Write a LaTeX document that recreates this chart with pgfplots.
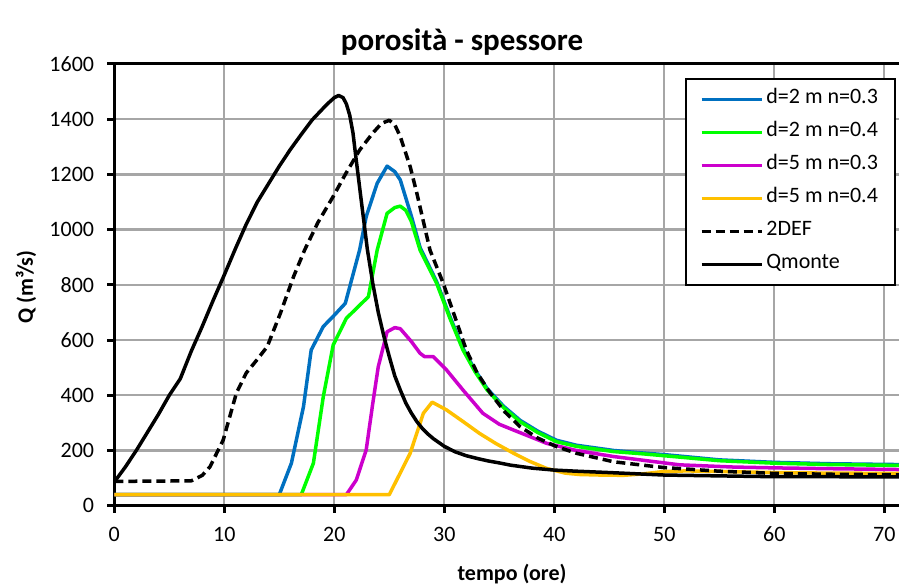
\documentclass[border=0pt]{standalone}
\usepackage{pgfplots}
\pgfplotsset{compat=1.18}
\usepackage{fontspec}
\setmainfont{Carlito}

\definecolor{cBlue}{RGB}{0,112,192}
\definecolor{cGreen}{RGB}{0,255,0}
\definecolor{cMagenta}{RGB}{204,0,204}
\definecolor{cOrange}{RGB}{255,192,0}
\definecolor{cGrid}{RGB}{166,166,166}

\begin{document}
\begin{tikzpicture}[x=1pt,y=1pt]
\useasboundingbox (0,0) rectangle (899,588);
\begin{axis}[
  at={(114.3pt,82.3pt)}, anchor=south west,
  scale only axis,
  width=784.7pt, height=441.7pt,
  xmin=0, xmax=71.34, ymin=0, ymax=1600,
  xtick={0,10,...,70}, ytick={0,200,...,1600},
  axis x line=box, axis y line=left,
  xtick pos=left,
  axis line style={-, line width=3pt, black},
  tick align=outside,
  major tick length=7pt,
  tick style={black, line width=3pt},
  grid=major,
  major grid style={cGrid, line width=2.3pt},
  /pgf/number format/assume math mode=true,
  /pgf/number format/1000 sep={},
  tick label style={font=\fontsize{22}{26}\selectfont},
  xticklabel style={anchor=north, inner sep=0pt, yshift=-14pt},
  yticklabel style={anchor=east, inner sep=0pt, xshift=-13pt},
  legend style={at={(axis cs:71.06,1550)}, anchor=north east,
    draw=black, line width=2pt, fill=white,
    inner xsep=14pt, inner ysep=7pt, row sep=6pt,
    font=\fontsize{22}{26}\selectfont,
    nodes={inner xsep=3pt, inner ysep=3pt, text height=15pt, text depth=6pt}},
  legend cell align=left,
  legend image code/.code={\draw[#1] (0pt,0pt) -- (60pt,0pt);},
  every axis plot/.append style={line width=3.5pt, line join=round},
]

% d = 2 m, n = 0.3
\addplot[cBlue] coordinates {
(0,40) (15,40) (16.1,154) (17.2,359) (17.9,564) (19,649) (20,690) (21,733)
(22.3,926) (22.9,1047) (23.9,1168) (24.8,1230) (25.5,1210) (26,1180)
(27,1050) (27.8,935) (29.3,812) (30.5,686) (31.7,570) (32.8,491) (33.9,424)
(35.4,360) (36.9,309) (38.5,270) (40.2,237) (42,219) (45.4,200) (48,191)
(50,185) (55,166) (60,157) (65,152) (71.34,149)};
\addlegendentry{d=2 m n=0.3}

% d = 2 m, n = 0.4
\addplot[cGreen] coordinates {
(0,40) (17,40) (18.1,154) (19,395) (19.9,582) (21.1,679) (23.1,757)
(23.9,926) (24.8,1059) (25.5,1080) (26,1085) (26.5,1070) (27,1030)
(27.8,926) (29.3,806) (30.5,680) (31.7,564) (32.8,485) (33.9,419)
(35.4,355) (36.9,304) (38.5,265) (40.2,232) (42,215) (45.4,196) (48,188)
(50,181) (55,163) (60,154) (65,149) (71.34,146)};
\addlegendentry{d=2 m n=0.4}

% d = 5 m, n = 0.3
\addplot[cMagenta] coordinates {
(0,40) (21.1,40) (22,93) (22.9,202) (23.5,371) (24,504) (24.8,630)
(25.5,645) (26,641) (27,595) (27.8,552) (28.2,540) (29,540) (30.2,492)
(31.7,419) (33.5,335) (35,295) (36.3,274) (39.3,226) (42,200) (45.4,178)
(50,155) (51.4,148) (56.3,140) (60,137) (65,134) (71.34,131)};
\addlegendentry{d=5 m n=0.3}

% d = 5 m, n = 0.4
\addplot[cOrange] coordinates {
(0,40) (25,40) (26.9,190) (28.1,335) (28.9,375) (30.2,347) (31.7,305)
(33.2,262) (34.7,225) (36.3,190) (37.8,160) (39.3,135) (41,118) (42.3,113)
(44.2,111) (46.3,110) (48,115) (50,124) (52,126) (55,124) (60,120)
(65,118) (71.34,117)};
\addlegendentry{d=5 m n=0.4}

% 2DEF
\addplot[black, dash pattern=on 9pt off 5pt] coordinates {
(0,88) (7,90) (8,110) (8.7,141) (9.9,238) (11.1,408) (12,481) (13,530)
(13.9,576) (15.1,697) (16.3,830) (17.3,926) (18.5,1025) (19.9,1120)
(21,1200) (22.3,1288) (23.5,1350) (24.3,1385) (25,1396) (25.5,1380)
(26,1337) (26.9,1228) (27.5,1133) (28.7,926) (29.9,806) (31,680) (32,564)
(33,480) (34.2,407) (35.5,340) (36.9,286) (38.5,245) (40.2,214) (42,190)
(45.4,159) (48,147) (50,138) (55,125) (60,117) (65,114) (71.34,112)};
\addlegendentry{2DEF}

% Qmonte
\addplot[black] coordinates {
(0,86) (1,140) (2,200) (3,265) (4,330) (5,400) (6,460) (7,560) (8,650)
(9,745) (10,836) (11,930) (12,1020) (13,1100) (14,1165) (15,1230)
(16,1290) (17,1345) (18,1398) (19,1440) (19.5,1460) (20,1478) (20.4,1486)
(20.8,1478) (21.1,1455) (21.4,1415) (21.7,1350) (22,1250) (22.5,1090)
(23,930) (23.5,805) (24,700) (24.5,615) (25,540) (25.5,470) (26,419)
(26.5,372) (27,336) (27.5,305) (28,280) (28.5,260) (29,243) (30,215)
(31,195) (32,181) (33,171) (34,162) (35,155) (36,147) (38,136) (40,129)
(42,125) (45,120) (50,111) (55,108) (60,105) (65,105) (71.34,104)};
\addlegendentry{Qmonte}

\end{axis}
\node[anchor=base, font=\bfseries\fontsize{31}{36}\selectfont] at (462,537) {porosità - spessore};
\node[anchor=base, font=\bfseries\fontsize{22}{26}\selectfont] at (512,7) {tempo (ore)};
\node[rotate=90, font=\bfseries\fontsize{22}{26}\selectfont] at (26,301) {Q (m³/s)};
\end{tikzpicture}
\end{document}
